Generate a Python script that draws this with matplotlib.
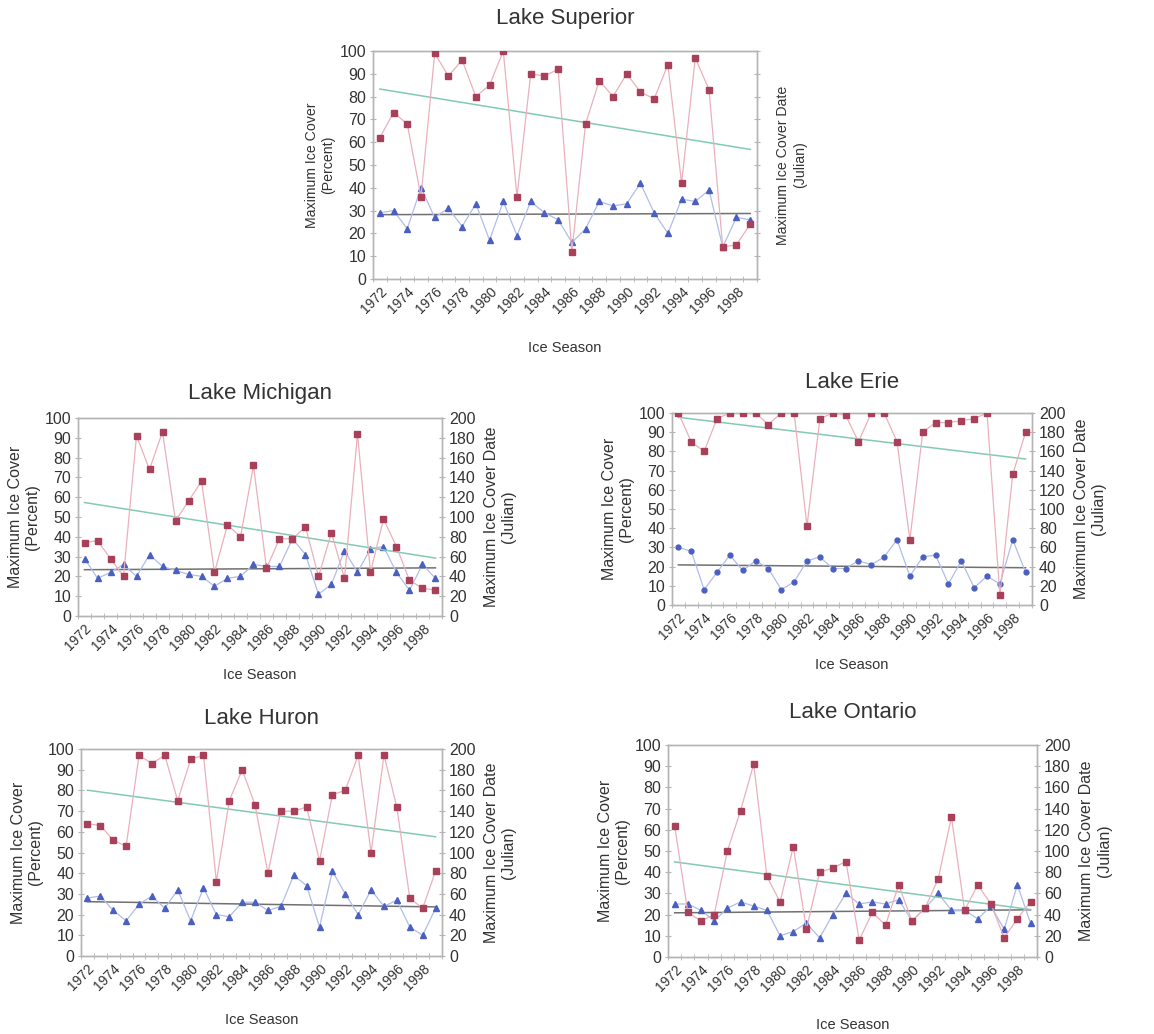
import numpy as np
import matplotlib.pyplot as plt

plt.rcParams['font.family'] = ['Liberation Sans', 'DejaVu Sans']

years = list(range(1972, 2000))

# maximum ice cover (percent)
superior_cover = [62, 73, 68, 36, 99, 89, 96, 80, 85, 100, 36, 90, 89, 92, 12, 68, 87, 80, 90, 82, 79, 94, 42, 97, 83, 14, 15, 24]
michigan_cover = [37, 38, 29, 20, 91, 74, 93, 48, 58, 68, 22, 46, 40, 76, 24, 39, 39, 45, 20, 42, 19, 92, 22, 49, 35, 18, 14, 13]
erie_cover = [100, 85, 80, 97, 100, 100, 100, 94, 100, 100, 41, 97, 100, 99, 85, 100, 100, 85, 34, 90, 95, 95, 96, 97, 100, 5, 68, 90]
huron_cover = [64, 63, 56, 53, 97, 93, 97, 75, 95, 97, 36, 75, 90, 73, 40, 70, 70, 72, 46, 78, 80, 97, 50, 97, 72, 28, 23, 41]
ontario_cover = [62, 21, 17, 20, 50, 69, 91, 38, 26, 52, 13, 40, 42, 45, 8, 21, 15, 34, 17, 23, 37, 66, 22, 34, 25, 9, 18, 26]

# maximum ice cover date (julian day)
superior_date = [58, 60, 44, 80, 54, 62, 46, 66, 34, 68, 38, 68, 58, 52, 32, 44, 68, 64, 66, 84, 58, 40, 70, 68, 78, 28, 54, 52]
michigan_date = [58, 38, 44, 52, 40, 62, 50, 46, 42, 40, 30, 38, 40, 52, 50, 50, 78, 62, 22, 32, 66, 44, 68, 70, 44, 26, 52, 38]
erie_date = [60, 56, 16, 34, 52, 36, 46, 38, 16, 24, 46, 50, 38, 38, 46, 42, 50, 68, 30, 50, 52, 22, 46, 18, 30, 22, 68, 34]
huron_date = [56, 58, 44, 34, 50, 58, 46, 64, 34, 66, 40, 38, 52, 52, 44, 48, 78, 68, 28, 82, 60, 40, 64, 48, 54, 28, 20, 46]
ontario_date = [50, 50, 44, 34, 46, 52, 48, 44, 20, 24, 32, 18, 40, 60, 50, 52, 50, 54, 34, 46, 60, 44, 44, 36, 48, 26, 68, 32]

RED_LINE = '#eab0bb'
RED_MARK = '#a8405a'
BLUE_LINE = '#b0bde8'
BLUE_MARK = '#4a5fc0'
TREND_RED = '#82cab2'
TREND_BLUE = '#707070'
SPINE = '#b4b4b4'
TXT = '#333333'


def panel(fig, rect, title, title_y, xlabel_y, cover, date, lab_fs=11.5,
          show_right=True, blue_marker='^', blue_ms=4.0):
    ax = fig.add_axes(rect)
    x = np.arange(len(years))
    ax2 = ax.twinx()

    # trend lines
    p = np.polyfit(x, cover, 1)
    ax.plot([x[0], x[-1]], np.polyval(p, [x[0], x[-1]]), color=TREND_RED, lw=1.1, zorder=2)
    q = np.polyfit(x, date, 1)
    ax2.plot([x[0], x[-1]], np.polyval(q, [x[0], x[-1]]), color=TREND_BLUE, lw=1.1, zorder=2)

    ax2.plot(x, date, color=BLUE_LINE, lw=0.9, marker=blue_marker, ms=blue_ms,
             mfc=BLUE_MARK, mec=BLUE_MARK, zorder=3)
    ax.plot(x, cover, color=RED_LINE, lw=0.9, marker='s', ms=4.0,
            mfc=RED_MARK, mec=RED_MARK, zorder=3)
    ax.set_zorder(ax2.get_zorder() + 1)
    ax.patch.set_visible(False)

    ax.set_xlim(-0.5, len(years) - 0.5)
    ax.set_ylim(0, 100)
    ax2.set_ylim(0, 200)
    ax.set_yticks(range(0, 101, 10))
    ax2.set_yticks(range(0, 201, 20))

    ax.set_xticks(x[::2])
    ax.set_xticklabels([str(y) for y in years[::2]], rotation=45, ha='right',
                       rotation_mode='anchor', fontsize=10, color=TXT)
    ax.set_xticks(np.arange(len(years) + 1) - 0.5, minor=True)
    ax.tick_params(axis='x', which='major', length=0, pad=4)
    ax.tick_params(axis='x', which='minor', length=5, direction='inout', color=SPINE)
    ax.tick_params(axis='y', length=4, direction='inout', color=SPINE, labelsize=11.5,
                   labelcolor=TXT, pad=3)
    ax2.tick_params(axis='y', length=4, direction='inout', color=SPINE, labelsize=11.5,
                    labelcolor=TXT, pad=3, labelright=show_right)

    for a in (ax, ax2):
        for s in a.spines.values():
            s.set_color(SPINE)
            s.set_linewidth(1.0)

    ax.set_ylabel('Maximum Ice Cover\n(Percent)', fontsize=lab_fs, color=TXT, labelpad=3)
    ax2.set_ylabel('Maximum Ice Cover Date\n(Julian)', fontsize=lab_fs, color=TXT,
                   rotation=90, labelpad=6 if show_right else 12)

    cx = rect[0] + rect[2] / 2
    fig.text(cx, 1 - title_y / 1034, title, ha='center', va='center', fontsize=16, color=TXT)
    fig.text(cx, 1 - xlabel_y / 1034, 'Ice Season', ha='center', va='center', fontsize=10.5, color=TXT)
    return ax


fig = plt.figure(figsize=(11.54, 10.34), dpi=100)

panel(fig, [0.3232, 0.7302, 0.3328, 0.2205], 'Lake Superior', 18, 348,
      superior_cover, superior_date, lab_fs=10.2, show_right=False)
panel(fig, [0.0676, 0.4043, 0.3154, 0.1915], 'Lake Michigan', 393, 675,
      michigan_cover, michigan_date)
panel(fig, [0.5823, 0.4149, 0.3120, 0.1857], 'Lake Erie', 383, 665,
      erie_cover, erie_date, blue_marker='o', blue_ms=3.5)
panel(fig, [0.0702, 0.0754, 0.3128, 0.2002], 'Lake Huron', 718, 1020,
      huron_cover, huron_date)
panel(fig, [0.5789, 0.0745, 0.3198, 0.2050], 'Lake Ontario', 712, 1025,
      ontario_cover, ontario_date)

fig.savefig('out.png', dpi=100, facecolor='white')
